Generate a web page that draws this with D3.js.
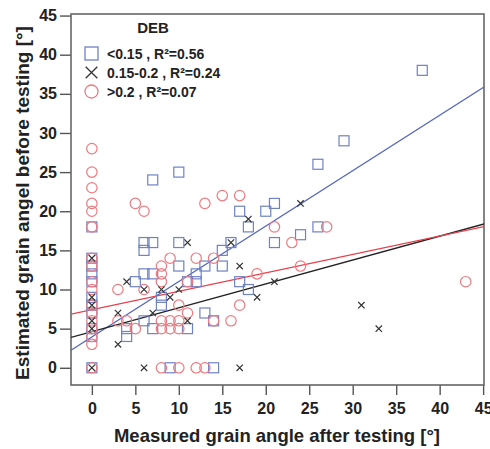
<!DOCTYPE html>
<html>
<head>
<meta charset="utf-8">
<script src="https://cdn.jsdelivr.net/npm/d3@7"></script>
<style>
  body { margin: 0; background: #fff; }
  svg text { font-family: "Liberation Sans", Arial, sans-serif; font-weight: bold; fill: #222; }
</style>
</head>
<body>
<div id="chart"></div>
<script>
// grain angle scatter, three DEB groups + linear fits

const width = 490;
const height = 449;

// measured (x) vs estimated (y) grain angle
const lowPts = [ // DEB < 0.15
  [0,18],[0,14],[0,13],[0,12],[0,11],[0,9],[0,8],[0,7],[0,5],[0,4],[0,0],
  [38,38],[29,29],[26,26],[26,18],[24,17],[21,21],[20,20],[17,20],[18,18],
  [21,16],[16,16],[15,15],[15,13],[13,13],[12,12],[12,11],[10,25],[7,24],
  [6,16],[7,16],[6,15],[10,16],[10,13],[6,12],[7,12],[5,11],[17,11],[18,10],
  [13,7],[14,6],[11,5],[7,5],[4,4],[4,5],[6,6],[8,8],[8,9],[9,0],[14,0],[11,11]
];
const midPts = [ // DEB 0.15-0.2
  [0,14],[0,9],[0,8],[0,6],[0,5],[0,0],[3,3],[3,7],[4,11],[6,10],[7,7],
  [8,10],[9,9],[10,10],[11,6],[11,16],[16,16],[17,13],[18,19],[19,9],
  [21,11],[24,21],[31,8],[33,5],[6,0],[17,0]
];
const highPts = [ // DEB > 0.2
  [0,28],[0,25],[0,23],[0,21],[0,20],[0,18],[0,14],[0,13],[0,11],[0,10],
  [0,8],[0,7],[0,6],[0,5],[0,4],[0,3],[0,0],
  [5,21],[6,20],[13,21],[15,22],[17,22],[21,18],[23,16],[27,18],[12,14],
  [14,14],[9,14],[8,13],[8,12],[8,11],[11,11],[3,10],[6,10],[3,6],[4,6],
  [5,5],[8,6],[9,6],[10,6],[8,5],[9,5],[10,5],[10,8],[11,7],[14,6],[16,6],
  [17,8],[19,12],[24,13],[43,11],[8,0],[10,0],[12,0],[13,0]
];

// fit lines (intercept, slope) for low / mid / high
const fitIntercept = [3.95, 4.62, 7.43];
const fitSlope = [0.708, 0.305, 0.235];

const legendLabels = ["<0.15 , R\u00b2=0.56", "0.15-0.2 , R\u00b2=0.24", ">0.2 , R\u00b2=0.07"];
const xTicks = [0, 5, 10, 15, 20, 25, 30, 35, 40, 45];
const yTicks = [0, 5, 10, 15, 20, 25, 30, 35, 40, 45];

const BLUE = "#6f82c4";
const RED = "#ee7a80";
const DARK = "#333";
const LINECOL = ["#5567bb", "#222", "#e8404b"];

const pLeft = 71, pRight = 484, pTop = 14, pBottom = 385;

const x = d3.scaleLinear().domain([-2.4, 45.1]).range([pLeft, pRight]);
const y = d3.scaleLinear().domain([-2.2, 45.2]).range([pBottom, pTop]);

const svg = d3.select("#chart").append("svg")
    .attr("width", width)
    .attr("height", height);

svg.append("clipPath").attr("id", "plotclip")
  .append("rect")
    .attr("x", pLeft).attr("y", pTop)
    .attr("width", pRight - pLeft).attr("height", pBottom - pTop);

// axes
const yAxis = svg.append("g")
    .attr("transform", `translate(${pLeft},0)`)
    .call(d3.axisLeft(y).tickValues(yTicks).tickSize(11).tickPadding(3));
const xAxis = svg.append("g")
    .attr("transform", `translate(0,${pBottom})`)
    .call(d3.axisBottom(x).tickValues(xTicks).tickSize(10).tickPadding(8));
[xAxis, yAxis].forEach(g => {
  g.select(".domain").remove();
  g.selectAll(".tick line").attr("stroke", "#555").attr("stroke-width", 1.4);
  g.selectAll(".tick text").attr("font-size", 16).attr("fill", "#222");
});

// frame
svg.append("rect")
    .attr("x", pLeft).attr("y", pTop)
    .attr("width", pRight - pLeft).attr("height", pBottom - pTop)
    .attr("fill", "none")
    .attr("stroke", "#666")
    .attr("stroke-width", 1.6);

const plot = svg.append("g").attr("clip-path", "url(#plotclip)");

// fit lines
const line = d3.line().x(d => x(d[0])).y(d => y(d[1]));
fitIntercept.forEach((b, i) => {
  const xs = x.domain();
  plot.append("path")
      .attr("d", line(xs.map(v => [v, b + fitSlope[i] * v])))
      .attr("fill", "none")
      .attr("stroke", LINECOL[i])
      .attr("stroke-width", 1.3);
});

// markers
const sq = 10;
plot.selectAll(".sq").data(lowPts).join("rect")
    .attr("x", d => x(d[0]) - sq / 2)
    .attr("y", d => y(d[1]) - sq / 2)
    .attr("width", sq).attr("height", sq)
    .attr("fill", "none")
    .attr("stroke", BLUE)
    .attr("stroke-width", 1.2);

plot.selectAll(".ci").data(highPts).join("circle")
    .attr("cx", d => x(d[0]))
    .attr("cy", d => y(d[1]))
    .attr("r", 5.2)
    .attr("fill", "none")
    .attr("stroke", RED)
    .attr("stroke-width", 1.2);

const cross = d3.symbol().type(d3.symbolX).size(28);
plot.selectAll(".cr").data(midPts).join("path")
    .attr("transform", d => `translate(${x(d[0])},${y(d[1])})`)
    .attr("d", cross)
    .attr("fill", "none")
    .attr("stroke", DARK)
    .attr("stroke-width", 1.2);

// legend
const lg = svg.append("g");
lg.append("text")
    .attr("x", 153).attr("y", 33)
    .attr("text-anchor", "middle")
    .attr("font-size", 15)
    .text("DEB");
const rowY = [53.5, 72.5, 91.5];
lg.append("rect")
    .attr("x", 85).attr("y", rowY[0] - 6.5)
    .attr("width", 13).attr("height", 13)
    .attr("fill", "none").attr("stroke", BLUE).attr("stroke-width", 1.3);
lg.append("path")
    .attr("transform", `translate(91.5,${rowY[1]})`)
    .attr("d", d3.symbol().type(d3.symbolX).size(90)())
    .attr("fill", "none").attr("stroke", DARK).attr("stroke-width", 1.3);
lg.append("circle")
    .attr("cx", 91.5).attr("cy", rowY[2]).attr("r", 6.5)
    .attr("fill", "none").attr("stroke", RED).attr("stroke-width", 1.3);
legendLabels.forEach((t, i) => {
  lg.append("text")
      .attr("x", 107).attr("y", rowY[i] + 5)
      .attr("font-size", 14)
      .text(t);
});

// axis titles
svg.append("text")
    .attr("x", 277).attr("y", 442)
    .attr("text-anchor", "middle")
    .attr("font-size", 18.5)
    .text("Measured grain angle after testing [\u00b0]");
svg.append("text")
    .attr("transform", "translate(29,203) rotate(-90)")
    .attr("text-anchor", "middle")
    .attr("font-size", 19)
    .text("Estimated grain angel before testing [\u00b0]");
</script>
</body>
</html>
